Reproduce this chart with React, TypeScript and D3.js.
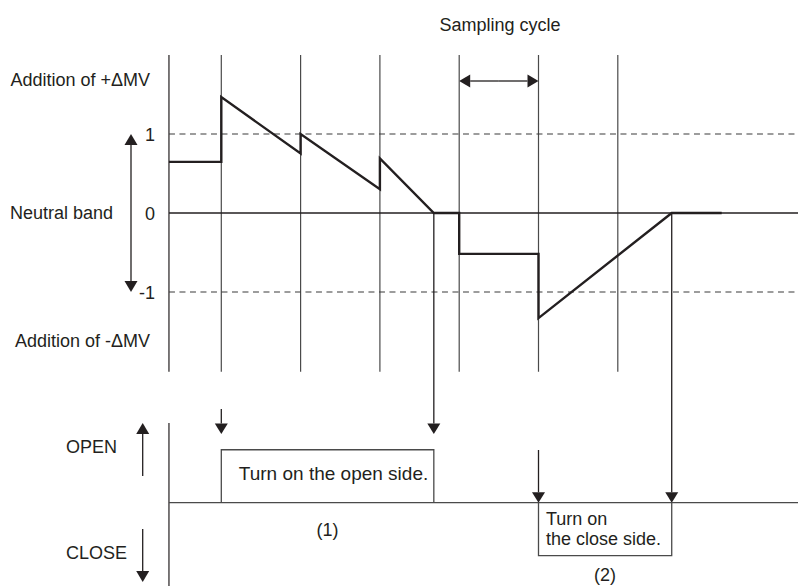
import React from "react";
import * as d3 from "d3";

// ---- Data ----
const cycleTicks = [0, 1, 2, 3, 4, 5];
const thresholdLevels = [1, -1];
const levelLabels = ["1", "0", "-1"];
const levelValues = [1, 0, -1];
// deviation curve (x in sampling cycles, y in band units)
const curveX = [-0.66, 0, 0, 1, 1, 2, 2, 2.68, 3, 3, 4, 4, 5.68, 6.31];
const curveY = [0.647, 0.647, 1.467, 0.753, 1.0, 0.3, 0.69, 0, 0, -0.517, -0.517, -1.33, 0, 0];
// output pulses
const openPulse = [0, 2.68];
const closePulse = [4, 5.68];
const pulseHeight = 0.67;
const openText = ["Turn on the open side."];
const closeText = ["Turn on", "the close side."];

const W = 798;
const H = 586;
const FONT = "'Liberation Sans', Arial, Helvetica, sans-serif";
const INK = "#231f20";
const GRID = "#4a4a4a";
const DASH = "#3a3a3a";

const x = d3.scaleLinear().domain([0, 6]).range([221.3, 697.1]);
const y = d3.scaleLinear().domain([-1, 1]).range([292, 134]);
const yLow = d3.scaleLinear().domain([-1, 1]).range([502.7 + 79, 502.7 - 79]);

function Arrow({ x1, y1, x2, y2, head = 10, half = 5.5, color = INK, sw = 1.3 }: any) {
  const dx = x2 - x1;
  const dy = y2 - y1;
  const len = Math.sqrt(dx * dx + dy * dy);
  const ux = dx / len;
  const uy = dy / len;
  const bx = x2 - ux * head;
  const by = y2 - uy * head;
  const px = -uy * half;
  const py = ux * half;
  return (
    <g>
      <line x1={x1} y1={y1} x2={bx} y2={by} stroke={color} strokeWidth={sw} />
      <path d={`M${x2},${y2}L${bx + px},${by + py}L${bx - px},${by - py}Z`} fill={color} />
    </g>
  );
}

export default function App() {
  const x0 = x(curveX[0]);
  const line = d3
    .line<number>()
    .x((_, i) => x(curveX[i]))
    .y((d) => y(d));
  const gridTop = 55;
  const gridBottom = 371.7;
  const lowTop = 423;

  const openX0 = x(openPulse[0]);
  const openX1 = x(openPulse[1]);
  const closeX0 = x(closePulse[0]);
  const closeX1 = x(closePulse[1]);

  return (
    <svg
      width={W}
      height={H}
      style={{ position: "absolute", left: 0, top: 0, background: "#fff" }}
      fontFamily={FONT}
      fontSize={18}
    >
      {/* Title */}
      <text x={500} y={31} textAnchor="middle" fill={INK}>Sampling cycle</text>
      <Arrow x1={x(3.5)} y1={81} x2={x(3)} y2={81} head={11} half={6.5} />
      <Arrow x1={x(3.5)} y1={81} x2={x(4)} y2={81} head={11} half={6.5} />

      {/* vertical grid lines */}
      <line x1={x0} x2={x0} y1={gridTop} y2={gridBottom} stroke={INK} strokeWidth={1.2} />
      {cycleTicks.map((c) => (
        <line key={c} x1={x(c)} x2={x(c)} y1={gridTop} y2={gridBottom} stroke={GRID} strokeWidth={1.2} />
      ))}

      {/* thresholds */}
      {thresholdLevels.map((v) => (
        <line key={v} x1={x0} x2={W} y1={y(v)} y2={y(v)} stroke={DASH} strokeWidth={1.2} strokeDasharray="6,4.5" />
      ))}
      <line x1={x0} x2={W} y1={y(0)} y2={y(0)} stroke={INK} strokeWidth={1.3} />

      {/* level labels */}
      {levelLabels.map((t, i) => (
        <text key={t} x={155} y={y(levelValues[i]) + 6.5} textAnchor="end" fill={INK}>{t}</text>
      ))}
      <text x={150} y={86} textAnchor="end" fill={INK}>Addition of +ΔMV</text>
      <text x={10} y={219} fill={INK}>Neutral band</text>
      <text x={150} y={347} textAnchor="end" fill={INK}>Addition of -ΔMV</text>
      <Arrow x1={131} y1={213} x2={131} y2={134} head={11} half={6.5} />
      <Arrow x1={131} y1={213} x2={131} y2={292} head={11} half={6.5} />

      {/* curve */}
      <path d={line(curveY) || ""} fill="none" stroke={INK} strokeWidth={2.4} strokeLinejoin="miter" />

      {/* connectors */}
      <Arrow x1={openX0} y1={409} x2={openX0} y2={434} head={10.5} half={6.5} />
      <Arrow x1={openX1} y1={y(0)} x2={openX1} y2={434} head={10.5} half={6.5} />
      <Arrow x1={closeX0} y1={450} x2={closeX0} y2={yLow(0)} head={10.5} half={6.5} />
      <Arrow x1={closeX1} y1={y(0)} x2={closeX1} y2={yLow(0)} head={10.5} half={6.5} />

      {/* lower section */}
      <line x1={x0} x2={x0} y1={lowTop} y2={H} stroke={INK} strokeWidth={1.2} />
      <line x1={x0} x2={W} y1={yLow(0)} y2={yLow(0)} stroke={GRID} strokeWidth={1.3} />
      <text x={66} y={453} fill={INK}>OPEN</text>
      <text x={66} y={559} fill={INK}>CLOSE</text>
      <Arrow x1={142.7} y1={476} x2={142.7} y2={423} head={11} half={6.5} />
      <Arrow x1={142.7} y1={529} x2={142.7} y2={582} head={11} half={6.5} />

      {/* open pulse */}
      <path
        d={`M${openX0},${yLow(0)}V${yLow(pulseHeight)}H${openX1}V${yLow(0)}`}
        fill="none"
        stroke={GRID}
        strokeWidth={1.3}
      />
      {openText.map((t, i) => (
        <text key={t} x={(openX0 + openX1) / 2 + 6} y={480 + i * 20} textAnchor="middle" fontSize={19} fill={INK}>{t}</text>
      ))}
      <text x={(openX0 + openX1) / 2} y={536} textAnchor="middle" fill={INK}>(1)</text>

      {/* close pulse */}
      <path
        d={`M${closeX0},${yLow(0)}V${yLow(-pulseHeight)}H${closeX1}V${yLow(0)}`}
        fill="none"
        stroke={GRID}
        strokeWidth={1.3}
      />
      {closeText.map((t, i) => (
        <text key={t} x={closeX0 + 7.5} y={525 + i * 20} fill={INK}>{t}</text>
      ))}
      <text x={(closeX0 + closeX1) / 2} y={581} textAnchor="middle" fill={INK}>(2)</text>
    </svg>
  );
}
